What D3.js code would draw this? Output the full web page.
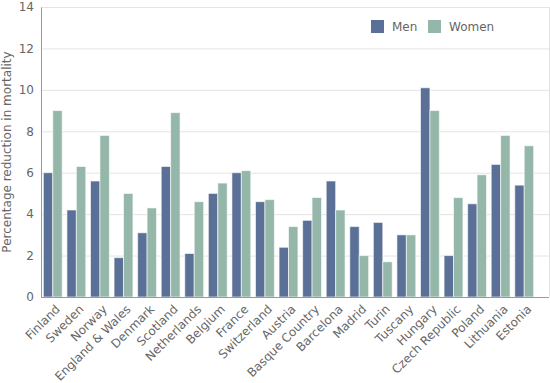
<!DOCTYPE html>
<html>
<head>
<meta charset="utf-8">
<script src="https://cdn.jsdelivr.net/npm/d3@7"></script>
<style>
  body { margin: 0; background: #fff; }
  svg { display: block; font-family: "DejaVu Sans", Verdana, sans-serif; }
</style>
</head>
<body>
<svg width="550" height="383" viewBox="0 0 550 383"></svg>
<script>
// Chart data
const places = ["Finland", "Sweden", "Norway", "England & Wales", "Denmark", "Scotland",
    "Netherlands", "Belgium", "France", "Switzerland", "Austria", "Basque Country",
    "Barcelona", "Madrid", "Turin", "Tuscany", "Hungary", "Czech Republic", "Poland",
    "Lithuania", "Estonia"];
const men = [6.0, 4.2, 5.6, 1.9, 3.1, 6.3, 2.1, 5.0, 6.0, 4.6, 2.4, 3.7, 5.6, 3.4, 3.6, 3.0, 10.1, 2.0, 4.5, 6.4, 5.4];
const women = [9.0, 6.3, 7.8, 5.0, 4.3, 8.9, 4.6, 5.5, 6.1, 4.7, 3.4, 4.8, 4.2, 2.0, 1.7, 3.0, 9.0, 4.8, 5.9, 7.8, 7.3];
const series = ["Men", "Women"];
const yTicks = [0, 2, 4, 6, 8, 10, 12, 14];

const colors = { Men: "#5a7096", Women: "#94b7aa" };

const svg = d3.select("svg");
const plot = { left: 41, right: 549, top: 7, bottom: 297 };

const rows = places.map((p, i) => ({ place: p, Men: men[i], Women: women[i] }));

const x = d3.scaleBand().domain(places).range([plot.left, 536]).paddingInner(0.2).paddingOuter(0.1);
const xs = d3.scaleBand().domain(series).range([0, x.bandwidth()]);
const y = d3.scaleLinear().domain([0, 14]).range([plot.bottom, plot.top]);

// Gridlines
svg.append("g")
    .selectAll("line")
    .data(yTicks.filter(d => d > 0))
    .enter()
    .append("line")
    .attr("x1", plot.left).attr("x2", plot.right)
    .attr("y1", d => y(d) + 0.5).attr("y2", d => y(d) + 0.5)
    .attr("stroke", "#e4e4e4")
    .attr("stroke-width", 1);

// right border
svg.append("line")
    .attr("x1", plot.right + 0.5).attr("x2", plot.right + 0.5)
    .attr("y1", plot.top).attr("y2", plot.bottom)
    .attr("stroke", "#e4e4e4");

// Bars
const groups = svg.append("g")
    .selectAll("g")
    .data(rows)
    .enter()
    .append("g")
    .attr("transform", d => `translate(${x(d.place)},0)`);

groups.selectAll("rect")
    .data(d => series.map(s => ({ key: s, value: d[s] })))
    .enter()
    .append("rect")
    .attr("x", d => xs(d.key))
    .attr("y", d => y(d.value))
    .attr("width", xs.bandwidth())
    .attr("height", d => y(0) - y(d.value))
    .attr("fill", d => colors[d.key])
    .attr("stroke", "#ffffff")
    .attr("stroke-opacity", 0.6)
    .attr("stroke-width", 1);

// Y axis
const yAxis = svg.append("g")
    .attr("transform", `translate(${plot.left},0)`)
    .call(d3.axisLeft(y).tickValues(yTicks).tickSize(0).tickPadding(7));
yAxis.select(".domain").attr("stroke", "#999");
yAxis.selectAll("text").attr("fill", "#666").attr("font-size", 12).attr("font-family", "DejaVu Sans, Verdana, sans-serif");

// X axis
const xAxis = svg.append("g")
    .attr("transform", `translate(0,${plot.bottom})`)
    .call(d3.axisBottom(x).tickSize(0));
xAxis.select(".domain").attr("d", `M${plot.left},0.5H${plot.right}`).attr("stroke", "#999");
xAxis.selectAll("text")
    .attr("fill", "#666")
    .attr("font-size", 12)
    .attr("font-family", "DejaVu Sans, Verdana, sans-serif")
    .attr("text-anchor", "end")
    .attr("x", 0).attr("y", 0)
    .attr("dy", "0.35em")
    .attr("transform", "translate(5,10) rotate(-45)");

// Y axis title
svg.append("text")
    .attr("transform", `translate(11,${(plot.top + plot.bottom) / 2}) rotate(-90)`)
    .attr("text-anchor", "middle")
    .attr("fill", "#666")
    .attr("font-size", 12)
    .text("Percentage reduction in mortality");

// Legend
const legend = svg.append("g").attr("transform", "translate(371,20)");
const items = legend.selectAll("g")
    .data(series)
    .enter()
    .append("g")
    .attr("transform", (d, i) => `translate(${i * 57},0)`);
items.append("rect")
    .attr("width", 13).attr("height", 13)
    .attr("fill", d => colors[d]);
items.append("text")
    .attr("x", 21).attr("y", 10.5)
    .attr("fill", "#666")
    .attr("font-size", 12)
    .text(d => d);
</script>
</body>
</html>
